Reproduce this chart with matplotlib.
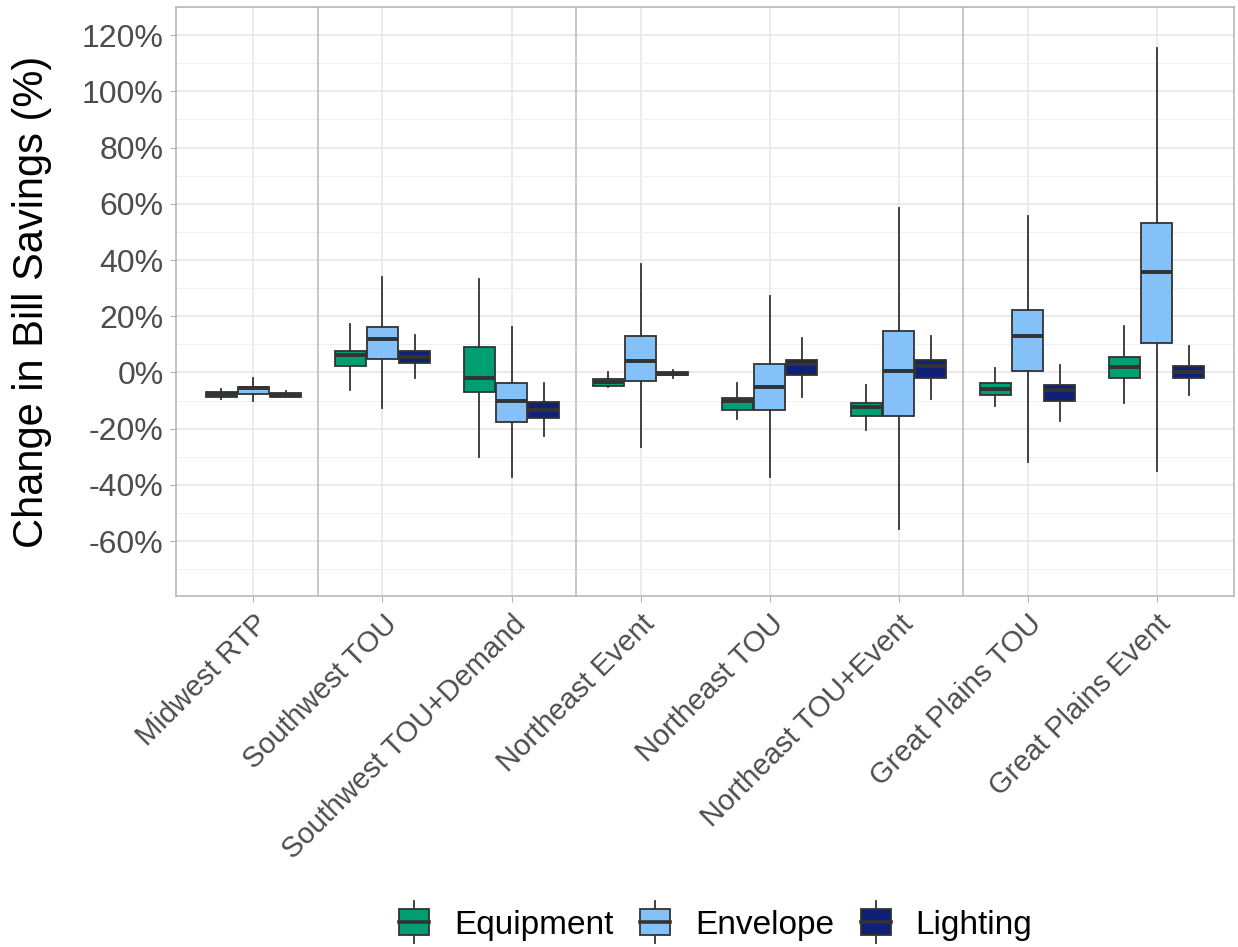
import matplotlib
matplotlib.use('Agg')
import matplotlib.pyplot as plt
import matplotlib.ticker as mticker
import matplotlib.transforms as mtransforms
from matplotlib.legend_handler import HandlerBase
from matplotlib.lines import Line2D
from matplotlib.patches import Patch, Rectangle
import numpy as np

plt.rcParams['font.family'] = ['Liberation Sans', 'DejaVu Sans']
plt.rcParams['axes.unicode_minus'] = False

categories = ['Midwest RTP', 'Southwest TOU', 'Southwest TOU+Demand', 'Northeast Event',
              'Northeast TOU', 'Northeast TOU+Event', 'Great Plains TOU', 'Great Plains Event']
groups = ['Equipment', 'Envelope', 'Lighting']
colors = ['#009E73', '#85C1F9', '#101F78']

# per category: (whisker low, q1, median, q3, whisker high), in %
equipment = [(-9.5, -8.7, -7.8, -6.9, -6.0),
             (-6.4, 2.2, 6.1, 7.7, 17.2),
             (-30.2, -7.0, -2.0, 9.2, 33.3),
             (-5.0, -4.8, -3.5, -2.2, 0.3),
             (-16.5, -13.3, -10.2, -9.2, -3.6),
             (-20.3, -15.5, -12.3, -10.8, -4.5),
             (-12.0, -7.9, -5.9, -3.8, 1.7),
             (-11.0, -1.9, 2.0, 5.5, 16.4)]
envelope = [(-10.2, -7.7, -5.6, -5.2, -2.0),
            (-12.6, 4.7, 11.9, 16.3, 34.0),
            (-37.2, -17.7, -10.2, -3.8, 16.2),
            (-26.5, -3.1, 4.2, 13.0, 38.6),
            (-37.2, -13.3, -5.1, 3.0, 27.1),
            (-55.6, -15.5, 0.4, 14.6, 58.6),
            (-31.9, 0.6, 12.9, 22.3, 55.5),
            (-35.1, 10.6, 35.9, 53.1, 115.5)]
lighting = [(-8.7, -8.7, -8.0, -7.3, -6.7),
            (-1.9, 3.5, 5.5, 7.7, 13.4),
            (-22.6, -16.1, -13.4, -10.6, -3.6),
            (-1.9, -1.0, -0.4, 0.2, 0.9),
            (-8.8, -0.9, 2.9, 4.6, 12.4),
            (-9.6, -1.9, 2.3, 4.6, 13.1),
            (-17.2, -10.2, -6.4, -4.5, 2.6),
            (-8.0, -1.9, 0.3, 2.3, 9.5)]
separators = [1.5, 3.5, 6.5]

EDGE = '#333333'


class BoxHandler(HandlerBase):
    def create_artists(self, legend, orig_handle, xdescent, ydescent, width, height, fontsize, trans):
        x0, y0 = -xdescent, -ydescent
        cx = x0 + width / 2
        wlo = Line2D([cx, cx], [y0 - 0.35 * height, y0], color=EDGE, lw=1.3, transform=trans)
        whi = Line2D([cx, cx], [y0 + height, y0 + 1.35 * height], color=EDGE, lw=1.3, transform=trans)
        box = Rectangle((x0, y0), width, height, facecolor=orig_handle.get_facecolor(),
                        edgecolor=EDGE, lw=1.3, transform=trans)
        med = Line2D([x0, x0 + width], [y0 + height / 2] * 2, color=EDGE, lw=2.6, transform=trans)
        return [wlo, whi, box, med]


fig = plt.figure(figsize=(12.38, 9.47), dpi=100)
ax = fig.add_axes([0.1422, 0.3707, 0.8546, 0.6219])

x = np.arange(1, len(categories) + 1)
offsets = [-0.25, 0.0, 0.25]
for data, off, col in zip([equipment, envelope, lighting], offsets, colors):
    stats = [dict(whislo=lo, q1=q1, med=med, q3=q3, whishi=hi)
             for lo, q1, med, q3, hi in data]
    ax.bxp(stats, positions=x + off, widths=0.24, patch_artist=True,
           showcaps=False, showfliers=False, manage_ticks=False,
           boxprops=dict(facecolor=col, edgecolor=EDGE, linewidth=1.3),
           whiskerprops=dict(color=EDGE, linewidth=1.3),
           medianprops=dict(color=EDGE, linewidth=2.8, solid_capstyle='butt'),
           zorder=3)

for s in separators:
    ax.axvline(s, color='#BDBDBD', lw=1.2, zorder=2)

ax.set_xlim(0.4, 8.6)
ax.set_ylim(-79.5, 130)
ax.set_xticks(x)
ax.set_xticklabels(categories, rotation=45, ha='right', va='top', rotation_mode='anchor',
                   fontsize=21, color='#4D4D4D')
shift = mtransforms.ScaledTranslation(8 / 100, 0, fig.dpi_scale_trans)
for lab in ax.get_xticklabels():
    lab.set_transform(lab.get_transform() + shift)

ax.yaxis.set_major_locator(mticker.MultipleLocator(20))
ax.yaxis.set_minor_locator(mticker.MultipleLocator(10))
ax.yaxis.set_major_formatter(mticker.PercentFormatter(xmax=100, decimals=0))
ax.tick_params(axis='y', labelsize=23, labelcolor='#4D4D4D', color='#B3B3B3', length=4, width=0.8, pad=5)
ax.tick_params(axis='y', which='minor', left=False)
ax.tick_params(axis='x', color='#B3B3B3', length=4, width=0.8, pad=6)

ax.grid(True, which='major', color='#E6E6E6', lw=1.1, zorder=0)
ax.grid(True, which='minor', axis='y', color='#EFEFEF', lw=0.7, zorder=0)
ax.set_axisbelow(True)
for sp in ax.spines.values():
    sp.set_color('#B3B3B3')
    sp.set_linewidth(1.1)

ax.set_ylabel('Change in Bill Savings (%)', fontsize=30, color='black')
ax.yaxis.set_label_coords(-0.117, 0.5)

handles = [Patch(facecolor=c, label=g) for g, c in zip(groups, colors)]
fig.legend(handles=handles, loc='center', bbox_to_anchor=(0.578, 1 - 925 / 947), ncol=3,
           frameon=False, fontsize=24, handlelength=0.9, handleheight=0.78,
           handletextpad=0.75, columnspacing=0.8, handler_map={Patch: BoxHandler()})

fig.savefig('out.png', dpi=100)
